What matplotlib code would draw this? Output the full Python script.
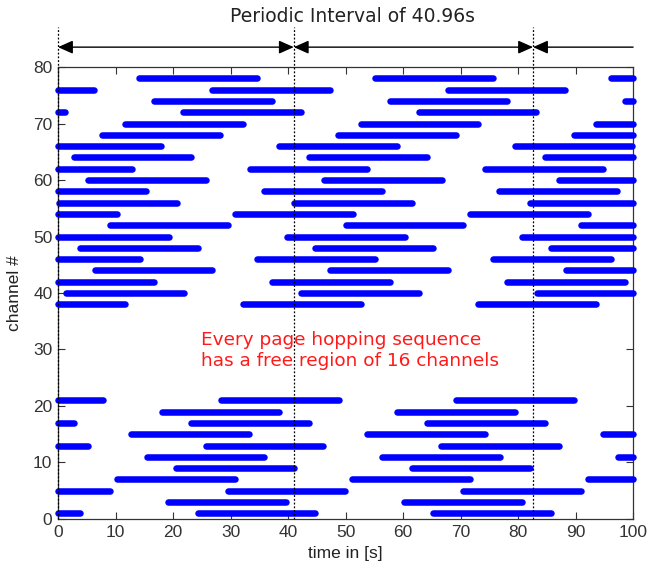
import matplotlib
matplotlib.use("Agg")
import matplotlib.pyplot as plt
from matplotlib.transforms import blended_transform_factory

# ── Data ──
period = 40.96          # s
seg_len = 20.48         # s, length of one train
markers = [0.0, 41.0, 82.6]   # dotted period markers as drawn

upper_ch = [78, 76, 74, 72, 70, 68, 66, 64, 62, 60, 58, 56, 54, 52, 50, 48, 46, 44, 42, 40, 38]
upper_start = [14.17, 26.8, 16.69, 21.76, 11.66, 7.72, 38.45, 2.71, 33.3, 5.28, 35.8,
               0.15, 30.75, 9.05, 39.78, 3.78, 34.68, 6.38, 37.18, 1.37, 32.13]
lower_ch = [21, 19, 17, 15, 13, 11, 9, 7, 5, 3, 1]
lower_start = [28.3, 18.03, 23.18, 12.76, 25.66, 15.39, 20.58, 10.24, 29.5, 19.19, 24.29]

x_ticks = list(range(0, 101, 10))
y_ticks = list(range(0, 81, 10))

tick_font = ['Liberation Sans', 'DejaVu Sans']

fig = plt.figure(figsize=(6.48, 5.68), dpi=100)
ax = fig.add_axes([0.0895, 0.0863, 0.8875, 0.7957])

XMIN, XMAX = 0, 100
for ch, s in zip(upper_ch + lower_ch, upper_start + lower_start):
    for k in range(-1, 3):
        a = s + k * period
        b = a + seg_len
        a, b = max(a, XMIN), min(b, XMAX)
        if b - a < 0.5:
            continue
        ax.plot([a, b], [ch, ch], color='#0000ff', lw=4.7,
                solid_capstyle='round', clip_on=False, zorder=3)

ax.set_xlim(XMIN, XMAX)
ax.set_ylim(0, 80)
ax.set_xticks(x_ticks)
ax.set_yticks(y_ticks)
ax.tick_params(direction='in', top=True, right=True, length=5, width=0.8,
               colors='#333333', labelsize=12.5, pad=4)
for lab in ax.get_xticklabels() + ax.get_yticklabels():
    lab.set_family(tick_font)
for sp in ax.spines.values():
    sp.set_color('#333333')
    sp.set_linewidth(0.9)

ax.set_xlabel('time in [s]', family=tick_font, fontsize=12.5, color='#222222', labelpad=5)
ax.set_ylabel('channel #', family=tick_font, fontsize=12.5, color='#222222', labelpad=8)

# period markers + arrows above the axes
tr = blended_transform_factory(ax.transData, ax.transAxes)
for m in markers:
    ax.plot([m, m], [0, 1.088], transform=tr, color='black', lw=0.9,
            linestyle=(0, (1.5, 1.5)), clip_on=False, zorder=4)

arrow_y = 1.044
spans = markers + [XMAX]
for i in range(len(spans) - 1):
    x0, x1 = spans[i], spans[i + 1]
    style = '<|-|>' if i < len(spans) - 2 else '<|-'
    ax.annotate('', xy=(x1, arrow_y), xytext=(x0, arrow_y), xycoords=tr, textcoords=tr,
                arrowprops=dict(arrowstyle=style + ',head_length=0.9,head_width=0.4',
                                color='black', lw=1.0, shrinkA=0, shrinkB=0),
                annotation_clip=False)

fig.text(352 / 648, 1 - 17 / 568, 'Periodic Interval of 40.96s', ha='center', va='center',
         fontsize=13.5, color='#222222')

ax.text(24.8, 29.8, 'Every page hopping sequence\nhas a free region of 16 channels',
        color='#ff1a1a', fontsize=13.3, ha='left', va='center', linespacing=1.25)

fig.savefig('out.png', dpi=100)
